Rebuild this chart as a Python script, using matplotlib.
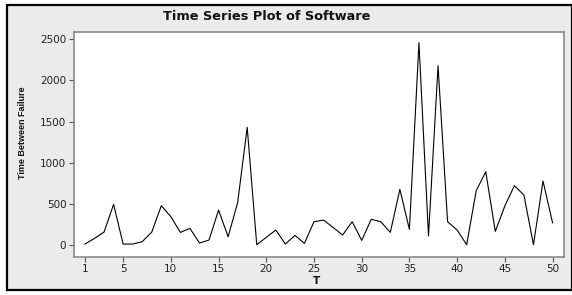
import matplotlib
matplotlib.use('Agg')
import matplotlib.pyplot as plt
from matplotlib.patches import Rectangle

# data
t = list(range(1, 51))
tbf = [8, 77, 154, 491, 8, 8, 37, 154, 475, 341,
       150, 199, 20, 57, 422, 97, 512, 1429, 0, 89,
       179, 8, 114, 16, 280, 300, 211, 118, 280, 53,
       309, 280, 150, 674, 187, 2460, 106, 2180, 280, 179,
       0, 658, 889, 162, 471, 719, 605, 0, 775, 268]
xticks = [1, 5, 10, 15, 20, 25, 30, 35, 40, 45, 50]
yticks = [0, 500, 1000, 1500, 2000, 2500]

W, H = 572, 295
fig = plt.figure(figsize=(W / 100, H / 100), dpi=100, facecolor='white')

# outer gray panel with black border
fig.patches.append(Rectangle((7 / W, (H - 290) / H), (571.5 - 7) / W, (290 - 5) / H,
                             transform=fig.transFigure, facecolor='#ebebeb',
                             edgecolor='black', linewidth=1.6, zorder=-10))

ax = fig.add_axes([74 / W, (H - 256.7) / H, 490 / W, 225 / H])
ax.set_zorder(5)
ax.set_facecolor('white')
ax.plot(t, tbf, color='black', linewidth=0.8)

ax.set_xlim(-0.15, 51.2)
ax.set_ylim(-146, 2594)
ax.set_xticks(xticks)
ax.set_yticks(yticks)
ax.tick_params(direction='out', length=3.5, width=0.8, color='#555555',
               labelsize=7.5, labelcolor='#222222', pad=2)
for s in ax.spines.values():
    s.set_color('#808080')
    s.set_linewidth(1.1)

fig.text(267 / W, 1 - 17 / H, 'Time Series Plot of Software', ha='center', va='center',
         fontsize=9.3, fontweight='bold', color='#111111')
fig.text(316.7 / W, 1 - 280.7 / H, 'T', ha='center', va='center',
         fontsize=7.5, fontweight='bold', color='#111111')
fig.text(23 / W, 1 - 132.5 / H, 'Time Between Failure', ha='center', va='center',
         rotation=90, fontsize=6.5, fontweight='bold', color='#111111',
         family=['Liberation Sans', 'DejaVu Sans'])

fig.savefig('out.png', dpi=100, facecolor='white')
